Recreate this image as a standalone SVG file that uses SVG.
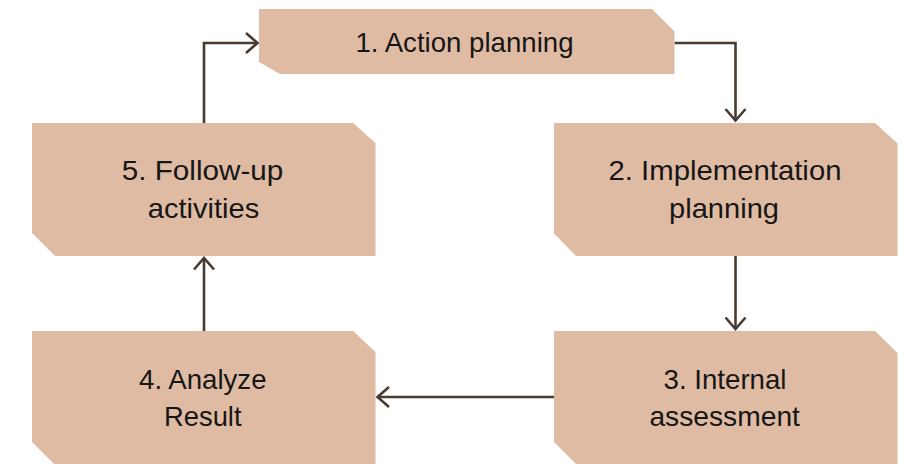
<svg xmlns="http://www.w3.org/2000/svg" width="912" height="464" viewBox="0 0 912 464">
  <style>
    .node { fill: #E0BBA3; }
    .lbl { font-family: "Liberation Sans", Arial, sans-serif; font-size: 28px; fill: #161616; text-anchor: middle; }
    .conn { fill: none; stroke: #4A3B30; stroke-width: 2.6; }
  </style>
  <defs>
    <marker id="arr" markerUnits="userSpaceOnUse" markerWidth="30" markerHeight="30" viewBox="-15 -15 30 30" refX="0" refY="0" orient="auto" overflow="visible">
      <path d="M-11.5,-10 L0,0 L-11.5,10" fill="none" stroke="#4A3B30" stroke-width="2.6" stroke-linejoin="miter"/>
    </marker>
  </defs>
  <rect width="912" height="464" fill="#FFFFFF"/>
  <g id="connectors">
    <path class="conn" d="M674.5,43 H735.5 V120.5" marker-end="url(#arr)"/>
    <path class="conn" d="M735.5,256 V329" marker-end="url(#arr)"/>
    <path class="conn" d="M554,397 H377.5" marker-end="url(#arr)"/>
    <path class="conn" d="M204,331 V258" marker-end="url(#arr)"/>
    <path class="conn" d="M204,123 V43 H257.5" marker-end="url(#arr)"/>
  </g>
  <g id="node1">
    <polygon class="node" points="259,9 652,9 674.5,31.5 674.5,74 280,74 259,62"/>
    <text class="lbl" x="464.5" y="52" textLength="218" lengthAdjust="spacingAndGlyphs">1. Action planning</text>
  </g>
  <g id="node2">
    <polygon class="node" points="554,123 875,123 897.5,143.5 897.5,256 576,256 554,233.5"/>
    <text class="lbl" x="725" y="179.5" textLength="233" lengthAdjust="spacingAndGlyphs">2. Implementation</text>
    <text class="lbl" x="724" y="217.5" textLength="110" lengthAdjust="spacingAndGlyphs">planning</text>
  </g>
  <g id="node3">
    <polygon class="node" points="554,331 875,331 897.5,353 897.5,464 576,464 554,442"/>
    <text class="lbl" x="725" y="389" textLength="123" lengthAdjust="spacingAndGlyphs">3. Internal</text>
    <text class="lbl" x="724.7" y="426" textLength="150.5" lengthAdjust="spacingAndGlyphs">assessment</text>
  </g>
  <g id="node4">
    <polygon class="node" points="32,331 353,331 375.5,352 375.5,464 54,464 32,442"/>
    <text class="lbl" x="202.8" y="388.5" textLength="127.5" lengthAdjust="spacingAndGlyphs">4. Analyze</text>
    <text class="lbl" x="202.8" y="426" textLength="77.5" lengthAdjust="spacingAndGlyphs">Result</text>
  </g>
  <g id="node5">
    <polygon class="node" points="32,123 353,123 375.5,143 375.5,256 55,256 32,233"/>
    <text class="lbl" x="202.5" y="180" textLength="161.5" lengthAdjust="spacingAndGlyphs">5. Follow-up</text>
    <text class="lbl" x="203.5" y="218.3" textLength="111.5" lengthAdjust="spacingAndGlyphs">activities</text>
  </g>
</svg>
